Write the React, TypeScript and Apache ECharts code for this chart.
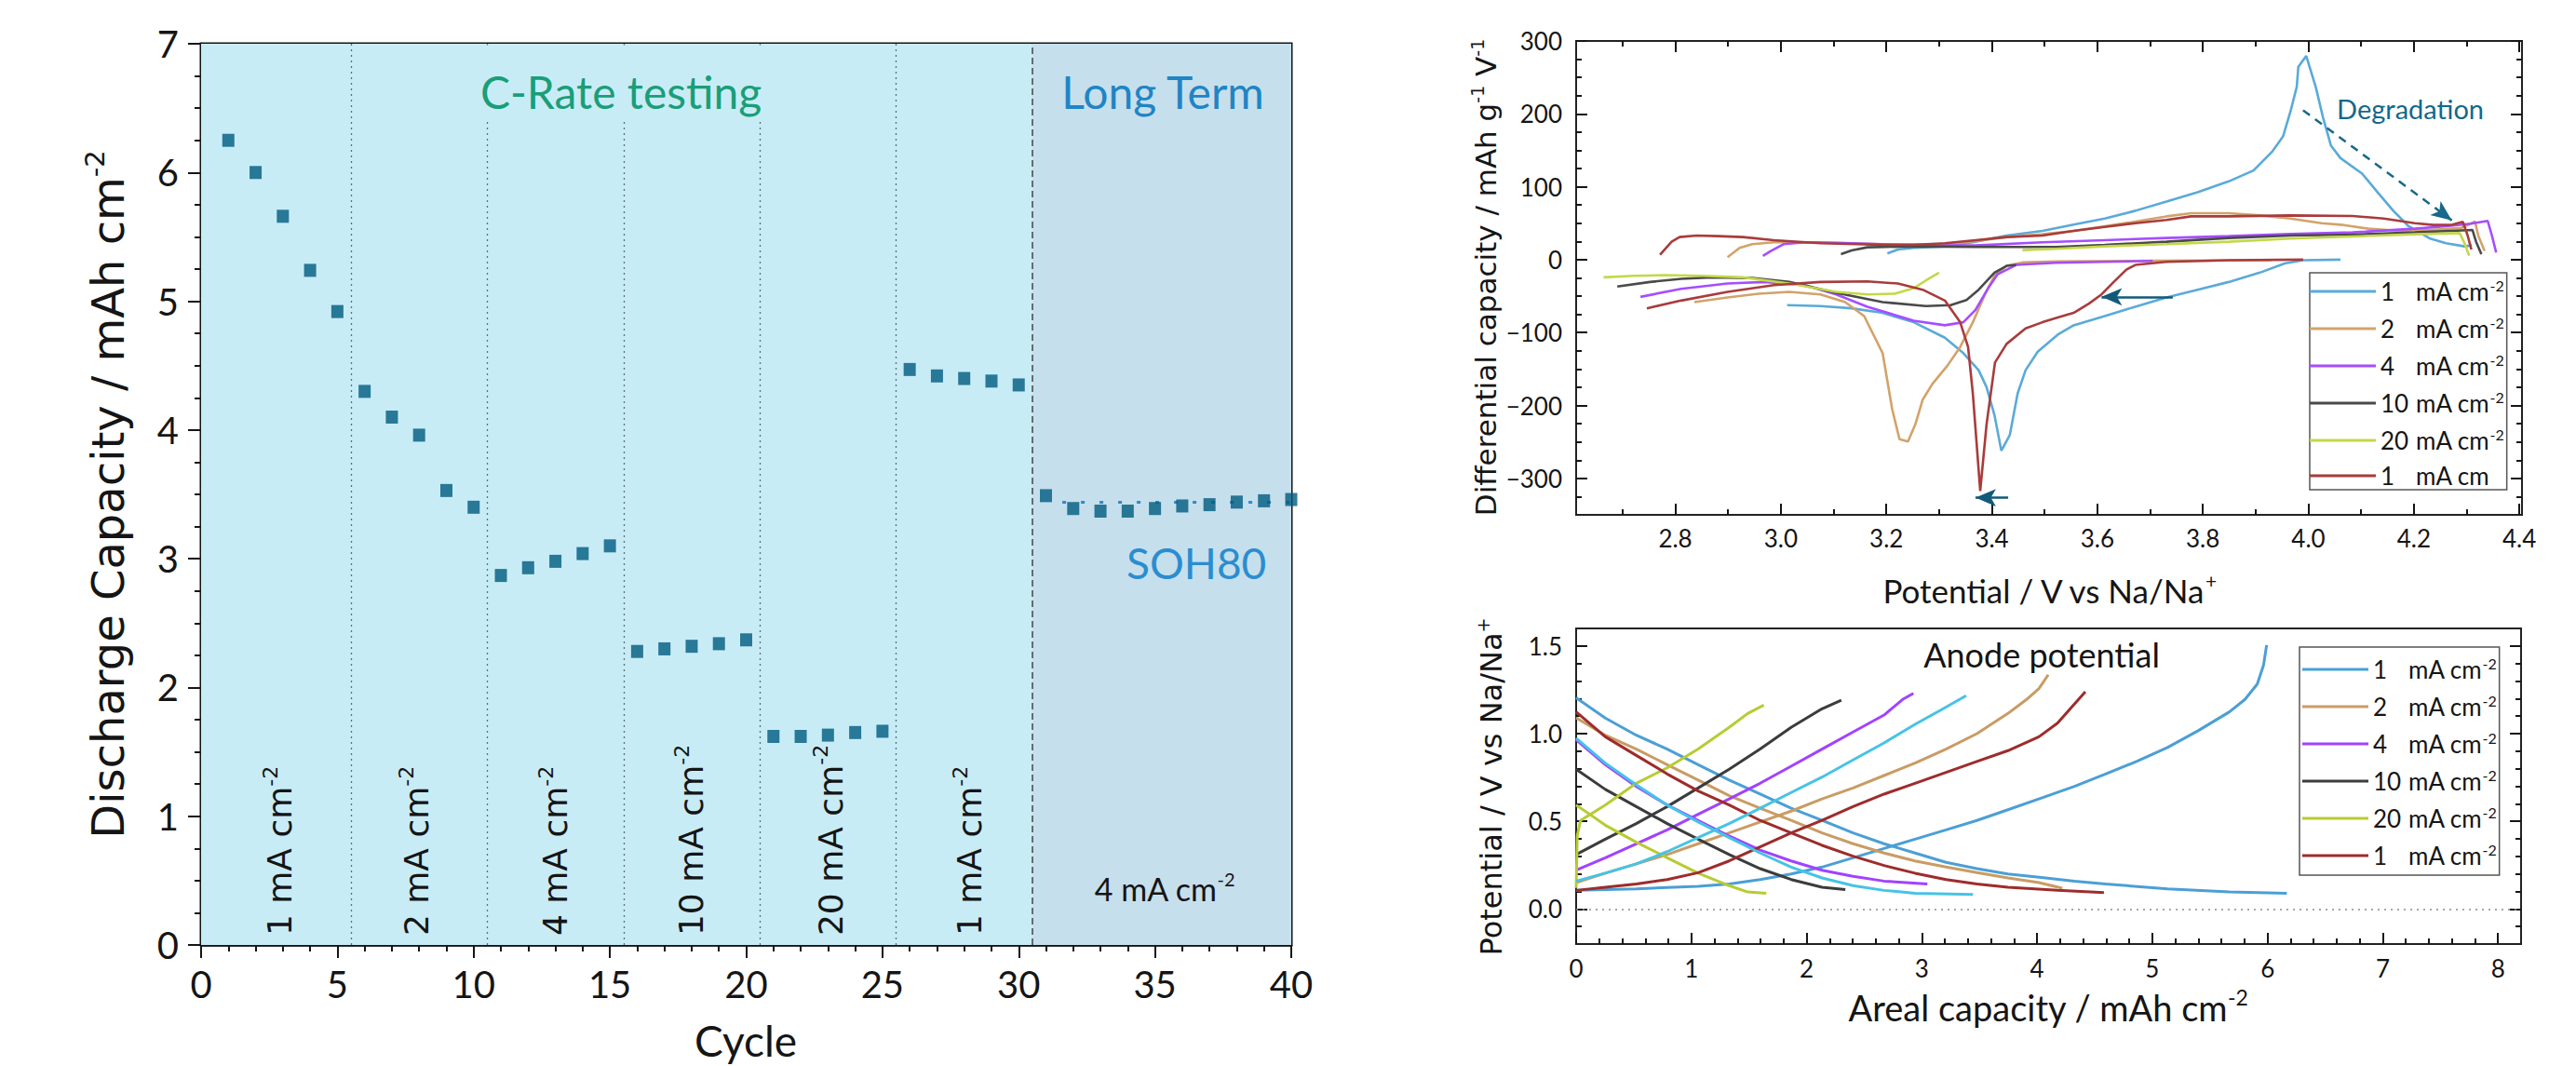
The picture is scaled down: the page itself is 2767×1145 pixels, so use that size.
import { useEffect, useRef } from 'react';
import * as echarts from 'echarts';

// ================= Panel A: discharge capacity vs cycle =================
const CYCLES = [1, 2, 3, 4, 5, 6, 7, 8, 9, 10, 11, 12, 13, 14, 15, 16, 17, 18, 19, 20,
  21, 22, 23, 24, 25, 26, 27, 28, 29, 30, 31, 32, 33, 34, 35, 36, 37, 38, 39, 40];
const DISCHARGE_CAPACITY = [6.25, 6.0, 5.66, 5.24, 4.92, 4.30, 4.10, 3.96, 3.53, 3.40,
  2.87, 2.93, 2.98, 3.04, 3.10, 2.28, 2.30, 2.32, 2.34, 2.37,
  1.62, 1.62, 1.63, 1.65, 1.66, 4.47, 4.42, 4.40, 4.38, 4.35,
  3.49, 3.39, 3.37, 3.37, 3.39, 3.41, 3.42, 3.44, 3.45, 3.46];
const RATE_BOUNDARIES = [5.5, 10.5, 15.5, 20.5, 25.5];
const LONG_TERM_START = 30.5;
const RATE_LABEL_CYCLES = [2.9, 7.9, 13.0, 18.0, 23.1, 28.2];
const RATE_LABEL_VALUES = ['1', '2', '4', '10', '20', '1'];
const SOH80_LEVEL = 3.44;
const SOH80_FROM_CYCLE = 31.6;

// ================= Panel B: differential capacity (dQ/dV) =================
const T1_CHARGE = [[3.202, 8.5], [3.222, 14], [3.252, 16.1], [3.311, 18.3], [3.369, 24.6], [3.428, 33.1], [3.496, 39.5], [3.555, 48], [3.614, 56.5], [3.672, 67.1], [3.731, 79.8], [3.79, 92.6], [3.849, 107.4], [3.896, 122.3], [3.931, 147.8], [3.952, 169], [3.966, 203], [3.978, 236.9], [3.981, 264.5], [3.996, 279.4], [4.014, 236.9], [4.028, 194.5], [4.043, 156.3], [4.061, 139.3], [4.102, 118], [4.131, 92.6], [4.161, 67.1], [4.19, 45.9], [4.231, 28.9], [4.261, 22.5], [4.296, 18.3], [4.31, 19.5]];
const T1_DISCHARGE = [[3.012, -62.4], [3.075, -63.7], [3.134, -66.7], [3.193, -73], [3.252, -85.8], [3.311, -107], [3.346, -128.2], [3.375, -151.6], [3.39, -174.9], [3.405, -213.2], [3.418, -262], [3.434, -240.8], [3.449, -183.4], [3.464, -151.6], [3.487, -126.1], [3.525, -102.8], [3.555, -90], [3.614, -77.3], [3.672, -64.5], [3.731, -51.8], [3.79, -41.2], [3.849, -30.6], [3.908, -17.8], [3.955, -5.1], [3.99, -0.8], [4.061, 0]];
const T2_CHARGE = [[2.899, 3.4], [2.922, 16.1], [2.946, 21.2], [2.987, 23.8], [3.075, 23.8], [3.193, 21.2], [3.311, 21.2], [3.369, 25.5], [3.428, 31], [3.496, 35], [3.555, 39.5], [3.614, 45.9], [3.672, 52.2], [3.731, 59.4], [3.778, 63.7], [3.849, 63.7], [3.908, 60.7], [3.966, 56.5], [4.025, 50.1], [4.061, 48], [4.114, 42.5], [4.173, 39.5], [4.231, 40.8], [4.29, 43.7], [4.316, 52.2], [4.322, 33.1], [4.334, 11.9]];
const T2_DISCHARGE = [[2.836, -58.2], [2.899, -51.8], [2.958, -46.7], [3.016, -44.2], [3.075, -47.6], [3.122, -58.2], [3.158, -77.3], [3.193, -128.2], [3.211, -204.7], [3.225, -246.3], [3.241, -249.3], [3.255, -225.9], [3.269, -191.9], [3.287, -170.7], [3.316, -145.2], [3.34, -119.7], [3.364, -85.8], [3.387, -47.6], [3.405, -22.1], [3.428, -8.5], [3.458, -3.8], [3.522, -2.5], [3.7, -1.5], [3.93, -0.8]];
const T4_CHARGE = [[2.966, 5.1], [2.981, 11.9], [3.005, 21.2], [3.046, 23.8], [3.134, 22.5], [3.252, 19.5], [3.369, 19.5], [3.496, 23.8], [3.614, 26.8], [3.731, 29.7], [3.849, 32.3], [3.966, 35.2], [4.084, 37.4], [4.202, 42.5], [4.261, 45.9], [4.308, 49.3], [4.34, 53.1], [4.348, 33.1], [4.356, 9.8]];
const T4_DISCHARGE = [[2.734, -51], [2.811, -39.9], [2.899, -32.7], [2.969, -30.6], [3.046, -34.8], [3.105, -47.6], [3.164, -64.5], [3.252, -83.7], [3.311, -90], [3.346, -85.8], [3.369, -68.8], [3.393, -39.1], [3.411, -20], [3.446, -7.2], [3.522, -4.2], [3.705, -1.7]];
const T10_CHARGE = [[3.114, 7.6], [3.134, 12.7], [3.164, 17], [3.252, 18.3], [3.369, 17.4], [3.522, 17.4], [3.614, 20.4], [3.731, 24.6], [3.849, 29.7], [3.966, 33.1], [4.084, 34.4], [4.202, 37.4], [4.311, 40.8], [4.318, 24.6], [4.328, 7.6]];
const T10_DISCHARGE = [[2.69, -36.9], [2.752, -30.6], [2.811, -26.3], [2.869, -24.2], [2.946, -25.1], [3.016, -30.6], [3.105, -45.4], [3.193, -58.2], [3.275, -63.7], [3.322, -62.4], [3.352, -55.2], [3.375, -41.2], [3.405, -17.8], [3.428, -8.5], [3.446, -7.2]];
const T20_CHARGE = [[3.458, 13.2], [3.522, 14.9], [3.614, 18.3], [3.731, 21.2], [3.849, 24.6], [3.966, 28.9], [4.084, 31.8], [4.202, 34.8], [4.287, 36.5], [4.296, 22.5], [4.305, 5.5]];
const T20_DISCHARGE = [[2.664, -24.2], [2.722, -22.1], [2.781, -21.2], [2.852, -22.1], [2.928, -24.2], [3.016, -32.7], [3.105, -44.2], [3.164, -47.6], [3.216, -46.7], [3.252, -39.1], [3.275, -28.5], [3.3, -17.8]];
const T1B_CHARGE = [[2.771, 6.8], [2.793, 24.6], [2.808, 31], [2.84, 33.1], [2.881, 32.3], [2.928, 31], [2.987, 26.8], [3.075, 22.5], [3.193, 20.4], [3.252, 20.4], [3.311, 22.5], [3.369, 26.8], [3.428, 31], [3.496, 33.1], [3.555, 39.5], [3.614, 45], [3.672, 50.1], [3.731, 54.4], [3.778, 59.4], [3.849, 59.4], [3.966, 60.7], [4.084, 59.9], [4.143, 56.5], [4.202, 50.1], [4.237, 47.6], [4.273, 48], [4.293, 51.8], [4.302, 33.1], [4.309, 14]];
const T1B_DISCHARGE = [[2.746, -66.7], [2.811, -56.1], [2.899, -44.2], [2.987, -34.8], [3.075, -30.6], [3.164, -29.7], [3.222, -32.7], [3.269, -41.2], [3.311, -56.1], [3.34, -85.8], [3.355, -119.7], [3.364, -183.4], [3.378, -317.2], [3.39, -225.9], [3.406, -141], [3.428, -115.5], [3.464, -94.3], [3.496, -85.8], [3.525, -79.4], [3.555, -73], [3.584, -60.3], [3.608, -47.6], [3.631, -30.6], [3.655, -13.6], [3.672, -7.2], [3.731, -3], [3.849, -0.8], [3.99, 0]];
const DEGRADATION_ARROW = [[3.99, 205], [4.272, 54]];
const SHIFT_ARROW_1 = [[3.743, -51], [3.608, -51]];
const SHIFT_ARROW_2 = [[3.431, -326.5], [3.369, -326.5]];
const TR_X_MAJOR = [2.8, 3.0, 3.2, 3.4, 3.6, 3.8, 4.0, 4.2, 4.4];
const TR_X_MINOR = [2.7, 2.9, 3.1, 3.3, 3.5, 3.7, 3.9, 4.1, 4.3];
const TR_Y_MAJOR = [-300, -200, -100, 0, 100, 200, 300];
const TR_Y_MINOR = [-325, -275, -250, -225, -175, -150, -125, -75, -50, -25, 25, 50, 75, 125, 150, 175, 225, 250, 275];

// ================= Panel C: anode potential =================
const B1_UP = [[0, 0.106], [0.522, 0.115], [1.059, 0.129], [1.328, 0.142], [1.597, 0.168], [1.866, 0.2], [2.134, 0.239], [2.403, 0.292], [2.672, 0.345], [2.941, 0.398], [3.21, 0.451], [3.478, 0.505], [3.747, 0.566], [4.056, 0.637], [4.325, 0.699], [4.594, 0.77], [4.863, 0.841], [5.132, 0.921], [5.401, 1.018], [5.669, 1.124], [5.804, 1.195], [5.911, 1.283], [5.965, 1.39], [5.992, 1.505]];
const B1_DOWN = [[0, 1.204], [0.253, 1.089], [0.522, 0.991], [0.79, 0.912], [1.059, 0.823], [1.328, 0.735], [1.597, 0.655], [1.866, 0.575], [2.134, 0.505], [2.403, 0.434], [2.672, 0.372], [2.941, 0.319], [3.21, 0.266], [3.478, 0.23], [3.747, 0.2], [4.056, 0.178], [4.325, 0.158], [4.594, 0.142], [5.132, 0.115], [5.669, 0.097], [6.167, 0.089]];
const B2_UP = [[0, 0.15], [0.253, 0.204], [0.522, 0.257], [0.79, 0.31], [1.059, 0.372], [1.328, 0.434], [1.597, 0.496], [1.866, 0.558], [2.134, 0.628], [2.403, 0.69], [2.672, 0.761], [2.941, 0.832], [3.21, 0.912], [3.478, 1.0], [3.747, 1.115], [3.909, 1.195], [4.016, 1.257], [4.097, 1.336]];
const B2_DOWN = [[0, 1.09], [0.253, 0.991], [0.522, 0.912], [0.79, 0.823], [1.059, 0.735], [1.328, 0.646], [1.597, 0.575], [1.866, 0.505], [2.134, 0.434], [2.403, 0.372], [2.672, 0.319], [2.941, 0.274], [3.21, 0.239], [3.478, 0.207], [3.747, 0.177], [4.016, 0.15], [4.218, 0.119]];
const B4_UP = [[0, 0.221], [0.253, 0.292], [0.522, 0.372], [0.79, 0.451], [1.059, 0.54], [1.328, 0.628], [1.597, 0.717], [1.866, 0.814], [2.134, 0.912], [2.403, 1.009], [2.672, 1.106], [2.833, 1.195], [2.927, 1.23]];
const B4_DOWN = [[0, 0.965], [0.253, 0.823], [0.522, 0.699], [0.79, 0.593], [1.059, 0.505], [1.328, 0.416], [1.597, 0.336], [1.866, 0.274], [2.134, 0.221], [2.403, 0.186], [2.672, 0.159], [3.048, 0.142]];
const B10_UP = [[0, 0.31], [0.253, 0.398], [0.522, 0.487], [0.79, 0.584], [1.059, 0.69], [1.328, 0.797], [1.597, 0.912], [1.866, 1.036], [2.134, 1.142], [2.301, 1.191]];
const B10_DOWN = [[0, 0.797], [0.253, 0.682], [0.522, 0.584], [0.79, 0.487], [1.059, 0.398], [1.328, 0.31], [1.597, 0.23], [1.866, 0.168], [2.134, 0.124], [2.336, 0.11]];
const B20_UP = [[0, 0.12], [0.01, 0.42], [0.038, 0.505], [0.253, 0.593], [0.522, 0.717], [0.79, 0.805], [1.059, 0.912], [1.328, 1.036], [1.489, 1.115], [1.629, 1.163]];
const B20_DOWN = [[0, 0.593], [0.118, 0.54], [0.253, 0.478], [0.522, 0.381], [0.79, 0.292], [1.059, 0.204], [1.328, 0.133], [1.489, 0.097], [1.65, 0.089]];
const B1B_UP = [[0, 0.106], [0.253, 0.124], [0.522, 0.142], [0.79, 0.168], [1.059, 0.207], [1.328, 0.274], [1.597, 0.354], [1.866, 0.434], [2.134, 0.505], [2.403, 0.584], [2.672, 0.655], [2.941, 0.717], [3.21, 0.779], [3.478, 0.841], [3.747, 0.903], [4.016, 0.982], [4.177, 1.06], [4.419, 1.239]];
const B1B_DOWN = [[0, 1.124], [0.253, 0.982], [0.522, 0.876], [0.79, 0.77], [1.059, 0.673], [1.328, 0.593], [1.597, 0.505], [1.866, 0.434], [2.134, 0.363], [2.403, 0.301], [2.672, 0.248], [2.941, 0.204], [3.21, 0.168], [3.478, 0.142], [3.747, 0.124], [4.177, 0.106], [4.58, 0.094]];
const BC_UP = [[0, 0.159], [0.253, 0.204], [0.522, 0.257], [0.79, 0.327], [1.059, 0.407], [1.328, 0.487], [1.597, 0.575], [1.866, 0.664], [2.134, 0.752], [2.403, 0.85], [2.672, 0.947], [2.941, 1.053], [3.21, 1.151], [3.384, 1.216]];
const BC_DOWN = [[0, 0.974], [0.253, 0.832], [0.522, 0.708], [0.79, 0.593], [1.059, 0.496], [1.328, 0.407], [1.597, 0.319], [1.866, 0.239], [2.134, 0.177], [2.403, 0.133], [2.672, 0.106], [2.941, 0.09], [3.444, 0.083]];
const BR_X_MAJOR = [0, 1, 2, 3, 4, 5, 6, 7, 8];
const BR_X_MINOR = [0.2, 0.4, 0.6, 0.8, 1.2, 1.4, 1.6, 1.8, 2.2, 2.4, 2.6, 2.8, 3.2, 3.4, 3.6, 3.8, 4.2, 4.4, 4.6, 4.8, 5.2, 5.4, 5.6, 5.8, 6.2, 6.4, 6.6, 6.8, 7.2, 7.4, 7.6, 7.8];
const BR_Y_MAJOR = [0, 0.5, 1.0, 1.5];
const BR_Y_MINOR = [-0.1, 0.1, 0.2, 0.3, 0.4, 0.6, 0.7, 0.8, 0.9, 1.1, 1.2, 1.3, 1.4];

const TOP_RATES = [
  { key: 't1', num: '1', sup: true, color: '#5aaad8', up: T1_CHARGE, down: T1_DISCHARGE },
  { key: 't2', num: '2', sup: true, color: '#d2a36a', up: T2_CHARGE, down: T2_DISCHARGE },
  { key: 't4', num: '4', sup: true, color: '#a64dff', up: T4_CHARGE, down: T4_DISCHARGE },
  { key: 't10', num: '10', sup: true, color: '#4a4a4a', up: T10_CHARGE, down: T10_DISCHARGE },
  { key: 't20', num: '20', sup: true, color: '#c4d848', up: T20_CHARGE, down: T20_DISCHARGE },
  { key: 't1b', num: '1', sup: false, color: '#a83c3c', up: T1B_CHARGE, down: T1B_DISCHARGE },
];
const BOTTOM_RATES = [
  { key: 'b1', num: '1', sup: true, color: '#4b9fd5', up: B1_UP, down: B1_DOWN },
  { key: 'b2', num: '2', sup: true, color: '#c99c64', up: B2_UP, down: B2_DOWN },
  { key: 'b4', num: '4', sup: true, color: '#a242ff', up: B4_UP, down: B4_DOWN },
  { key: 'b10', num: '10', sup: true, color: '#3c3c3c', up: B10_UP, down: B10_DOWN },
  { key: 'b20', num: '20', sup: true, color: '#b7cc32', up: B20_UP, down: B20_DOWN },
  { key: 'b1b', num: '1', sup: true, color: '#9e2c2c', up: B1B_UP, down: B1B_DOWN },
];
const CYAN_COLOR = '#46c3e6';

const LATO = 'Lato, "Open Sans", sans-serif';
const DEJAVU = '"DejaVu Sans", Verdana, sans-serif';
const INK = '#151515';

function rich(family: string, size: number, color: string) {
  return {
    m: { fontFamily: family, fontSize: size, fill: color, lineHeight: Math.round(size * 1.2) },
    s: { fontFamily: family, fontSize: Math.round(size * 0.6), fill: color, verticalAlign: 'top', lineHeight: Math.round(size * 0.6) },
  };
}
function gText(x: number, y: number, text: string, family: string, size: number, color: string, opts: any = {}) {
  return {
    type: 'text', x, y, z: 60, silent: true,
    rotation: opts.rotation || 0,
    style: {
      text, rich: rich(family, size, color), fill: color, fontSize: size, fontFamily: family,
      align: opts.align || 'center', verticalAlign: 'middle',
    },
  };
}

function tickAxis(o: any) {
  const labels = o.labels;
  return {
    type: 'value', gridIndex: o.grid, position: o.pos, min: o.min, max: o.max,
    axisLine: { show: false, onZero: false }, splitLine: { show: false },
    axisTick: { show: true, inside: true, length: o.minor ? 6 : 12, customValues: o.values, lineStyle: { color: INK, width: 2 } },
    axisLabel: labels
      ? { show: true, customValues: labels, formatter: o.fmt, fontFamily: LATO, fontSize: 26, color: INK, margin: o.margin }
      : { show: false },
  };
}

function buildOption() {
  const fmtTRx = (v: number) => v.toFixed(1);
  const fmtTRy = (v: number) => (v < 0 ? '\u2212' + Math.abs(Math.round(v)) : String(Math.round(v)));
  const fmtBRy = (v: number) => v.toFixed(1);
  const fmtBRx = (v: number) => String(Math.round(v));

  const xAxes: any[] = [
    {
      type: 'value', gridIndex: 0, min: 0, max: 40, interval: 5,
      axisLine: { show: true, onZero: false, lineStyle: { color: INK, width: 2.5 } },
      axisTick: { show: true, inside: false, length: 14, lineStyle: { color: INK, width: 2 } },
      minorTick: { show: true, splitNumber: 5, length: 7, lineStyle: { color: INK, width: 2 } },
      axisLabel: { fontFamily: LATO, fontSize: 40, color: INK, margin: 22 },
      splitLine: { show: false }, minorSplitLine: { show: false },
    },
    tickAxis({ grid: 1, pos: 'bottom', min: 2.612, max: 4.405, values: TR_X_MAJOR, labels: TR_X_MAJOR, fmt: fmtTRx, margin: 12 }),
    tickAxis({ grid: 1, pos: 'bottom', min: 2.612, max: 4.405, values: TR_X_MINOR, minor: true }),
    tickAxis({ grid: 1, pos: 'top', min: 2.612, max: 4.405, values: TR_X_MAJOR }),
    tickAxis({ grid: 1, pos: 'top', min: 2.612, max: 4.405, values: TR_X_MINOR, minor: true }),
    tickAxis({ grid: 2, pos: 'bottom', min: 0, max: 8.2, values: BR_X_MAJOR, labels: BR_X_MAJOR, fmt: fmtBRx, margin: 13 }),
    tickAxis({ grid: 2, pos: 'bottom', min: 0, max: 8.2, values: BR_X_MINOR, minor: true }),
  ];
  const yAxes: any[] = [
    {
      type: 'value', gridIndex: 0, min: 0, max: 7, interval: 1,
      axisLine: { show: true, onZero: false, lineStyle: { color: INK, width: 2.5 } },
      axisTick: { show: true, inside: false, length: 14, lineStyle: { color: INK, width: 2 } },
      minorTick: { show: true, splitNumber: 4, length: 7, lineStyle: { color: INK, width: 2 } },
      axisLabel: { fontFamily: LATO, fontSize: 40, color: INK, margin: 24 },
      splitLine: { show: false }, minorSplitLine: { show: false },
    },
    tickAxis({ grid: 1, pos: 'left', min: -350, max: 300, values: TR_Y_MAJOR, labels: TR_Y_MAJOR, fmt: fmtTRy, margin: 15 }),
    tickAxis({ grid: 1, pos: 'left', min: -350, max: 300, values: TR_Y_MINOR, minor: true }),
    tickAxis({ grid: 1, pos: 'right', min: -350, max: 300, values: TR_Y_MAJOR }),
    tickAxis({ grid: 1, pos: 'right', min: -350, max: 300, values: TR_Y_MINOR, minor: true }),
    tickAxis({ grid: 2, pos: 'left', min: -0.2, max: 1.6, values: BR_Y_MAJOR, labels: BR_Y_MAJOR, fmt: fmtBRy, margin: 15 }),
    tickAxis({ grid: 2, pos: 'left', min: -0.2, max: 1.6, values: BR_Y_MINOR, minor: true }),
    tickAxis({ grid: 2, pos: 'right', min: -0.2, max: 1.6, values: BR_Y_MAJOR }),
    tickAxis({ grid: 2, pos: 'right', min: -0.2, max: 1.6, values: BR_Y_MINOR, minor: true }),
  ];

  const series: any[] = [];
  // Panel A
  series.push({
    type: 'scatter', name: 'capacity', xAxisIndex: 0, yAxisIndex: 0,
    data: CYCLES.map((c, i) => [c, DISCHARGE_CAPACITY[i]]),
    symbol: 'rect', symbolSize: [13, 14], itemStyle: { color: '#005b80' }, z: 5, silent: true,
    markArea: {
      silent: true,
      data: [
        [{ xAxis: 0, itemStyle: { color: '#c8ecf6' } }, { xAxis: LONG_TERM_START }],
        [{ xAxis: LONG_TERM_START, itemStyle: { color: '#c6dfec' } }, { xAxis: 40 }],
      ],
    },
    markLine: {
      silent: true, symbol: ['none', 'none'], label: { show: false },
      data: [
        ...RATE_BOUNDARIES.map((b) => ({ xAxis: b, lineStyle: { type: [2, 4], color: '#5a707a', width: 1.3 } })),
        { xAxis: LONG_TERM_START, lineStyle: { type: [7, 4], color: '#444', width: 1.5 } },
        [{ coord: [SOH80_FROM_CYCLE, SOH80_LEVEL], lineStyle: { type: [4, 16], color: '#2a8dd0', width: 3 } }, { coord: [40, SOH80_LEVEL] }],
      ],
    },
  });

  const lineS = (name: string, data: number[][], color: string, width: number, xi: number, yi: number, extra: any = {}) => ({
    type: 'line', name, data, xAxisIndex: xi, yAxisIndex: yi, showSymbol: false, symbol: 'none',
    color, lineStyle: { color, width }, silent: true, z: 3, ...extra,
  });

  TOP_RATES.forEach((r) => {
    series.push(lineS(r.key, r.down, r.color, 2.6, 1, 1));
    series.push(lineS(r.key, r.up, r.color, 2.6, 1, 1));
  });
  const arrowColor = '#17688a';
  series.push(lineS('arrows', [], arrowColor, 2.5, 1, 1, {
    markLine: {
      silent: true, symbol: ['none', 'arrow'], symbolSize: [14, 22], label: { show: false },
      data: [
        [{ coord: DEGRADATION_ARROW[0], lineStyle: { color: arrowColor, width: 2.5, type: [9, 7] } }, { coord: DEGRADATION_ARROW[1] }],
        [{ coord: SHIFT_ARROW_1[0], lineStyle: { color: '#125a7a', width: 2.5, type: 'solid' } }, { coord: SHIFT_ARROW_1[1] }],
        [{ coord: SHIFT_ARROW_2[0], lineStyle: { color: '#125a7a', width: 2.5, type: 'solid' } }, { coord: SHIFT_ARROW_2[1] }],
      ],
    },
  }));

  BOTTOM_RATES.forEach((r) => {
    series.push(lineS(r.key, r.down, r.color, 3, 5, 5));
    series.push(lineS(r.key, r.up, r.color, 3, 5, 5));
  });
  series.push(lineS('cyan', BC_DOWN, CYAN_COLOR, 3, 5, 5));
  series.push(lineS('cyan', BC_UP, CYAN_COLOR, 3, 5, 5, {
    markLine: {
      silent: true, symbol: ['none', 'none'], label: { show: false },
      data: [{ yAxis: 0, lineStyle: { type: [2, 5], color: '#8a8a8a', width: 1.6 } }],
    },
  }));

  const legendRich = {
    n: { fontFamily: LATO, fontSize: 26, color: INK, width: 38, lineHeight: 30 },
    u: { fontFamily: LATO, fontSize: 26, color: INK, lineHeight: 30 },
    s: { fontFamily: LATO, fontSize: 16, color: INK, verticalAlign: 'top', lineHeight: 16 },
  };
  const mkLegend = (rates: any[], left: number, top: number, padding: number[]) => {
    const map: Record<string, any> = {};
    rates.forEach((r) => { map[r.key] = r; });
    return {
      data: rates.map((r) => r.key), orient: 'vertical', left, top, padding,
      icon: 'rect', itemWidth: 71, itemHeight: 3, itemGap: 12, selectedMode: false,
      borderColor: '#555', borderWidth: 1.5, backgroundColor: '#fff',
      formatter: (name: string) => {
        const r = map[name];
        return `{n|${r.num}}{u|mA cm}` + (r.sup ? '{s|-2}' : '');
      },
      textStyle: { fontFamily: LATO, fontSize: 26, color: INK, rich: legendRich },
    };
  };

  return {
    animation: false,
    backgroundColor: '#ffffff',
    textStyle: { fontFamily: LATO },
    grid: [
      { left: 216, top: 47, width: 1171, height: 968, show: true, borderColor: INK, borderWidth: 3, backgroundColor: 'transparent' },
      { left: 1693, top: 44, width: 1016, height: 509, show: true, borderColor: '#222', borderWidth: 2 },
      { left: 1693, top: 675, width: 1015, height: 339, show: true, borderColor: '#222', borderWidth: 2 },
    ],
    xAxis: xAxes,
    yAxis: yAxes,
    legend: [
      mkLegend(TOP_RATES, 2481, 293, [5, 3, 2, 0]),
      mkLegend(BOTTOM_RATES, 2470, 695, [9, 3, 8, 3]),
    ],
    series,
  };
}

function buildGraphics(chart: any) {
  const pA = (c: number, v: number) => chart.convertToPixel({ xAxisIndex: 0, yAxisIndex: 0 }, [c, v]) as number[];
  const pB = (x: number, y: number) => chart.convertToPixel({ xAxisIndex: 1, yAxisIndex: 1 }, [x, y]) as number[];
  const pC = (x: number, y: number) => chart.convertToPixel({ xAxisIndex: 5, yAxisIndex: 5 }, [x, y]) as number[];
  const els: any[] = [];

  // cover box behind "C-Rate testing"
  const b0 = pA(9.5, 6.99);
  const b1 = pA(21.3, 6.4);
  els.push({ type: 'rect', z: 55, silent: true, shape: { x: b0[0], y: b0[1], width: b1[0] - b0[0], height: b1[1] - b0[1] }, style: { fill: '#c8ecf6' } });

  let q = pA(15.41, 6.63);
  els.push(gText(q[0], q[1], '{m|C-Rate testing}', LATO, 48, '#1a9e78'));
  q = pA(35.29, 6.63);
  els.push(gText(q[0], q[1], '{m|Long Term}', LATO, 48, '#1f85c5'));
  q = pA(36.52, 2.965);
  els.push(gText(q[0], q[1], '{m|SOH80}', LATO, 46, '#2a8dd0'));
  q = pA(35.35, 0.44);
  els.push(gText(q[0], q[1], '{m|4 mA cm}{s|-2}', LATO, 34, INK));
  RATE_LABEL_CYCLES.forEach((c, i) => {
    const p = pA(c, 0.072);
    els.push(gText(p[0], p[1], `{m|${RATE_LABEL_VALUES[i]} mA cm}{s|-2}`, DEJAVU, 36, INK, { rotation: Math.PI / 2, align: 'left' }));
  });
  // Panel A titles
  els.push(gText(116, 531, '{m|Discharge Capacity / mAh cm}{s|-2}', DEJAVU, 48, INK, { rotation: Math.PI / 2 }));
  els.push(gText(801, 1117, '{m|Cycle}', LATO, 46, INK));

  // Panel B annotations
  q = pB(4.054, 207);
  els.push(gText(q[0], q[1], '{m|Degradation}', LATO, 29, '#14688a', { align: 'left' }));
  els.push(gText(1596, 298, '{m|Differential capacity / mAh g}{s|-1}{m| V}{s|-1}', DEJAVU, 31, INK, { rotation: Math.PI / 2 }));
  els.push(gText(2201, 634, '{m|Potential / V vs Na/Na}{s|+}', LATO, 35, INK));

  // Panel C annotations
  q = pC(4.04, 1.451);
  els.push(gText(q[0], q[1], '{m|Anode potential}', LATO, 36, INK));
  els.push(gText(1602, 845, '{m|Potential / V vs Na/Na}{s|+}', DEJAVU, 32, INK, { rotation: Math.PI / 2 }));
  els.push(gText(2200, 1082, '{m|Areal capacity / mAh cm}{s|-2}', LATO, 38, INK));
  return els;
}

export default function App() {
  const ref = useRef<HTMLDivElement>(null);
  useEffect(() => {
    const chart = echarts.init(ref.current as HTMLDivElement, null, { renderer: 'svg' });
    chart.setOption(buildOption() as any);
    chart.setOption({ graphic: { elements: buildGraphics(chart) } } as any);
    return () => chart.dispose();
  }, []);
  return <div ref={ref} style={{ position: 'fixed', left: 0, top: 0, width: 2767, height: 1145, background: '#fff' }} />;
}
